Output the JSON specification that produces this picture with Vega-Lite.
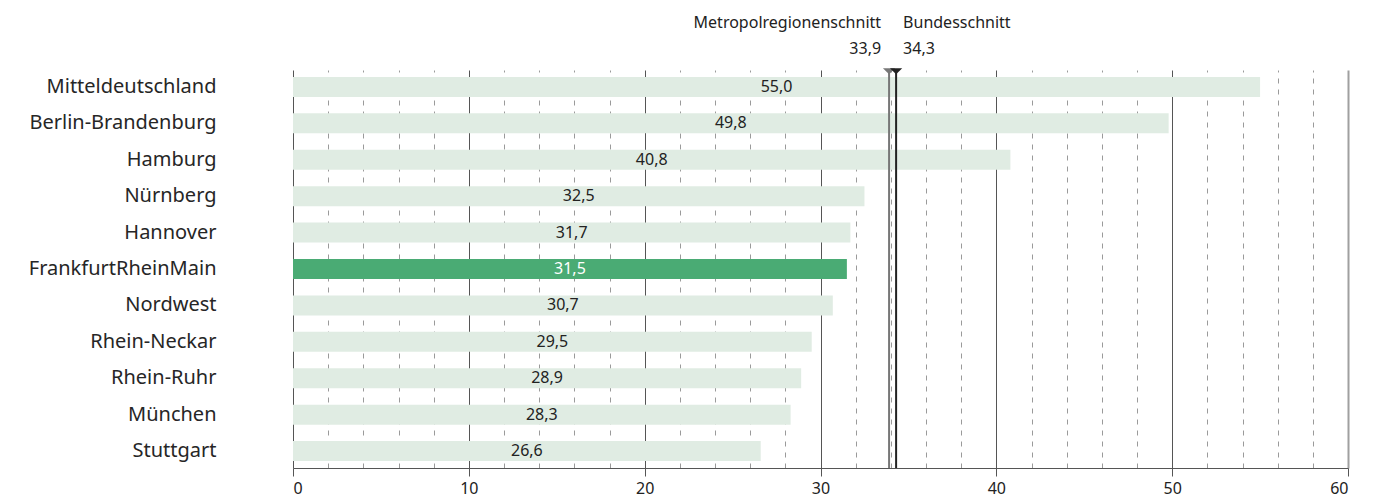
{
  "$schema": "https://vega.github.io/schema/vega-lite/v6.json",
  "width": 1055,
  "height": 398,
  "autosize": {"type": "none"},
  "padding": {"left": 293, "top": 70, "right": 27, "bottom": 30},
  "config": {
    "locale": {"number": {"decimal": ",", "thousands": ".", "grouping": [3], "currency": ["", " €"]}},
    "view": {"stroke": null},
    "font": "Noto Sans"
  },
  "datasets": {
    "regions": [
      {"region": "Mitteldeutschland", "value": 55.0},
      {"region": "Berlin-Brandenburg", "value": 49.8},
      {"region": "Hamburg", "value": 40.8},
      {"region": "Nürnberg", "value": 32.5},
      {"region": "Hannover", "value": 31.7},
      {"region": "FrankfurtRheinMain", "value": 31.5},
      {"region": "Nordwest", "value": 30.7},
      {"region": "Rhein-Neckar", "value": 29.5},
      {"region": "Rhein-Ruhr", "value": 28.9},
      {"region": "München", "value": 28.3},
      {"region": "Stuttgart", "value": 26.6}
    ],
    "refs": [
      {"name": "Metropolregionenschnitt", "value": 33.9, "side": "left"},
      {"name": "Bundesschnitt", "value": 34.3, "side": "right"}
    ]
  },
  "resolve": {"axis": {"x": "independent"}},
  "layer": [
    {
      "data": {"name": "regions"},
      "mark": {"type": "bar", "cornerRadius": 0},
      "encoding": {
        "y": {
          "field": "region", "type": "nominal", "sort": null,
          "scale": {"paddingInner": 0.45, "paddingOuter": 0.19},
          "axis": {"title": null, "domain": false, "ticks": false, "labelPadding": 77, "labelFontSize": 20, "labelLimit": 400, "labelColor": "#262626", "labelFont": "Noto Sans"}
        },
        "x": {
          "field": "value", "type": "quantitative",
          "scale": {"domain": [0, 60], "nice": false},
          "axis": {"orient": "bottom", "title": null, "labels": false, "ticks": false, "domain": false,
                   "values": [2,4,6,8,12,14,16,18,22,24,26,28,32,34,36,38,42,44,46,48,52,54,56,58],
                   "grid": true, "gridColor": "#9a9a9a", "gridDash": [5, 6], "gridWidth": 1}
        },
        "color": {
          "condition": {"test": "datum.region === 'FrankfurtRheinMain'", "value": "#4aab74"},
          "value": "#e0ece3"
        }
      }
    },
    {
      "data": {"name": "regions"},
      "transform": [{"calculate": "datum.value / 2", "as": "mid"}],
      "mark": {"type": "text", "fontSize": 16, "baseline": "middle", "align": "center"},
      "encoding": {
        "y": {"field": "region", "type": "nominal", "sort": null},
        "x": {"field": "mid", "type": "quantitative", "axis": null},
        "text": {"field": "value", "type": "quantitative", "format": ".1f"},
        "color": {
          "condition": {"test": "datum.region === 'FrankfurtRheinMain'", "value": "#ffffff"},
          "value": "#222222"
        }
      }
    },
    {
      "data": {"name": "refs"},
      "mark": {"type": "rule", "strokeWidth": 2},
      "encoding": {
        "x": {
          "field": "value", "type": "quantitative",
          "axis": {"orient": "bottom", "title": null, "values": [0,10,20,30,40,50,60], "grid": true,
                   "gridColor": {"condition": {"test": "datum.value === 60", "value": "#a0a0a0"}, "value": "#555555"},
                   "gridWidth": {"condition": {"test": "datum.value === 60", "value": 2}, "value": 1},
                   "domainColor": "#555", "tickColor": "#555",
                   "tickSize": 8, "labelFontSize": 16, "labelColor": "#222", "labelPadding": 4}
        },
        "color": {"field": "name", "type": "nominal", "legend": null,
                  "scale": {"domain": ["Metropolregionenschnitt", "Bundesschnitt"], "range": ["#777777", "#222222"]}}
      }
    },
    {
      "data": {"name": "refs"},
      "mark": {"type": "point", "filled": true, "opacity": 1, "shape": "M-1,-0.3L1,-0.3L0,0.7Z", "size": 150},
      "encoding": {
        "x": {"field": "value", "type": "quantitative", "axis": null},
        "y": {"value": 0},
        "color": {"field": "name", "type": "nominal", "legend": null}
      }
    },
    {
      "data": {"name": "refs"},
      "transform": [{"filter": "datum.side === 'left'"}],
      "layer": [
        {"mark": {"type": "text", "fontSize": 16, "baseline": "middle", "align": "right", "dx": -8, "dy": -47, "color": "#222"},
         "encoding": {"text": {"field": "name"}}},
        {"mark": {"type": "text", "fontSize": 16, "baseline": "middle", "align": "right", "dx": -8, "dy": -21, "color": "#222"},
         "encoding": {"text": {"field": "value", "type": "quantitative", "format": ".1f"}}}
      ],
      "encoding": {
        "x": {"field": "value", "type": "quantitative", "axis": null},
        "y": {"value": 0}
      }
    },
    {
      "data": {"name": "refs"},
      "transform": [{"filter": "datum.side === 'right'"}],
      "layer": [
        {"mark": {"type": "text", "fontSize": 16, "baseline": "middle", "align": "left", "dx": 7, "dy": -47, "color": "#222"},
         "encoding": {"text": {"field": "name"}}},
        {"mark": {"type": "text", "fontSize": 16, "baseline": "middle", "align": "left", "dx": 7, "dy": -21, "color": "#222"},
         "encoding": {"text": {"field": "value", "type": "quantitative", "format": ".1f"}}}
      ],
      "encoding": {
        "x": {"field": "value", "type": "quantitative", "axis": null},
        "y": {"value": 0}
      }
    }
  ]
}
